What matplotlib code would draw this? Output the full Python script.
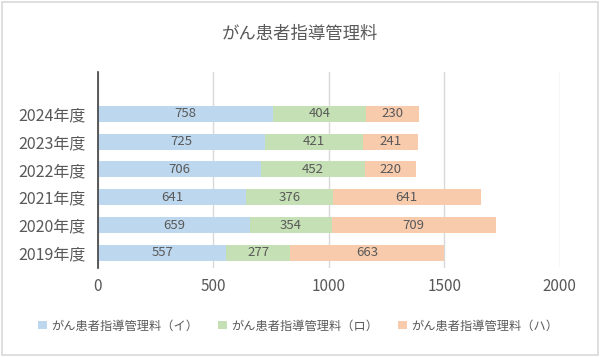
import matplotlib
matplotlib.use("Agg")
import matplotlib.pyplot as plt
import numpy as np

plt.rcParams['font.family'] = ['Noto Sans CJK JP', 'DejaVu Sans']

years = ["2019年度", "2020年度", "2021年度", "2022年度", "2023年度", "2024年度"]
i_vals = [557, 659, 641, 706, 725, 758]
ro_vals = [277, 354, 376, 452, 421, 404]
ha_vals = [663, 709, 641, 220, 241, 230]
series_names = ["がん患者指導管理料（イ）", "がん患者指導管理料（ロ）", "がん患者指導管理料（ハ）"]
colors = ["#BDD7EE", "#C5E0B4", "#F8CBAD"]
txt = "#595959"

fig = plt.figure(figsize=(6, 3.57), dpi=100)
ax = fig.add_axes([0.163, 0.249, 0.77, 0.549])

y = np.arange(len(years))
left = np.zeros(len(years))
for vals, name, c in zip([i_vals, ro_vals, ha_vals], series_names, colors):
    bars = ax.barh(y, vals, height=0.58, left=left, color=c, label=name, zorder=2)
    ax.bar_label(bars, labels=[str(v) for v in vals], label_type='center',
                 fontsize=9.5, color=txt)
    left = left + np.array(vals)

ax.set_xlim(0, 2000)
ax.set_ylim(-0.55, 6.5)
ax.set_xticks([0, 500, 1000, 1500, 2000])
ax.set_yticks(y)
ax.set_yticklabels(years)
ax.tick_params(axis='both', length=0, colors=txt)
ax.tick_params(axis='y', labelsize=11.5, pad=9)
ax.tick_params(axis='x', labelsize=11, pad=7)
ax.grid(axis='x', color='#D9D9D9', linewidth=1, zorder=0)
for s in ['top', 'right', 'bottom']:
    ax.spines[s].set_visible(False)
ax.spines['left'].set_color('#404040')
ax.spines['left'].set_linewidth(1.2)
ax.spines['left'].set_zorder(3)

fig.text(0.5, 0.905, "がん患者指導管理料", ha='center', va='center',
         fontsize=12.5, color=txt)
fig.legend(loc='center', bbox_to_anchor=(0.497, 0.087), ncol=3, frameon=False,
           fontsize=8.8, labelcolor=txt, handlelength=0.7, handleheight=0.7,
           handletextpad=0.4, columnspacing=1.6)

border = plt.Rectangle((0.003, 0.005), 0.994, 0.99, transform=fig.transFigure,
                       fill=False, edgecolor='#D9D9D9', linewidth=1.2)
fig.patches.append(border)

fig.savefig("out.png", dpi=100)
